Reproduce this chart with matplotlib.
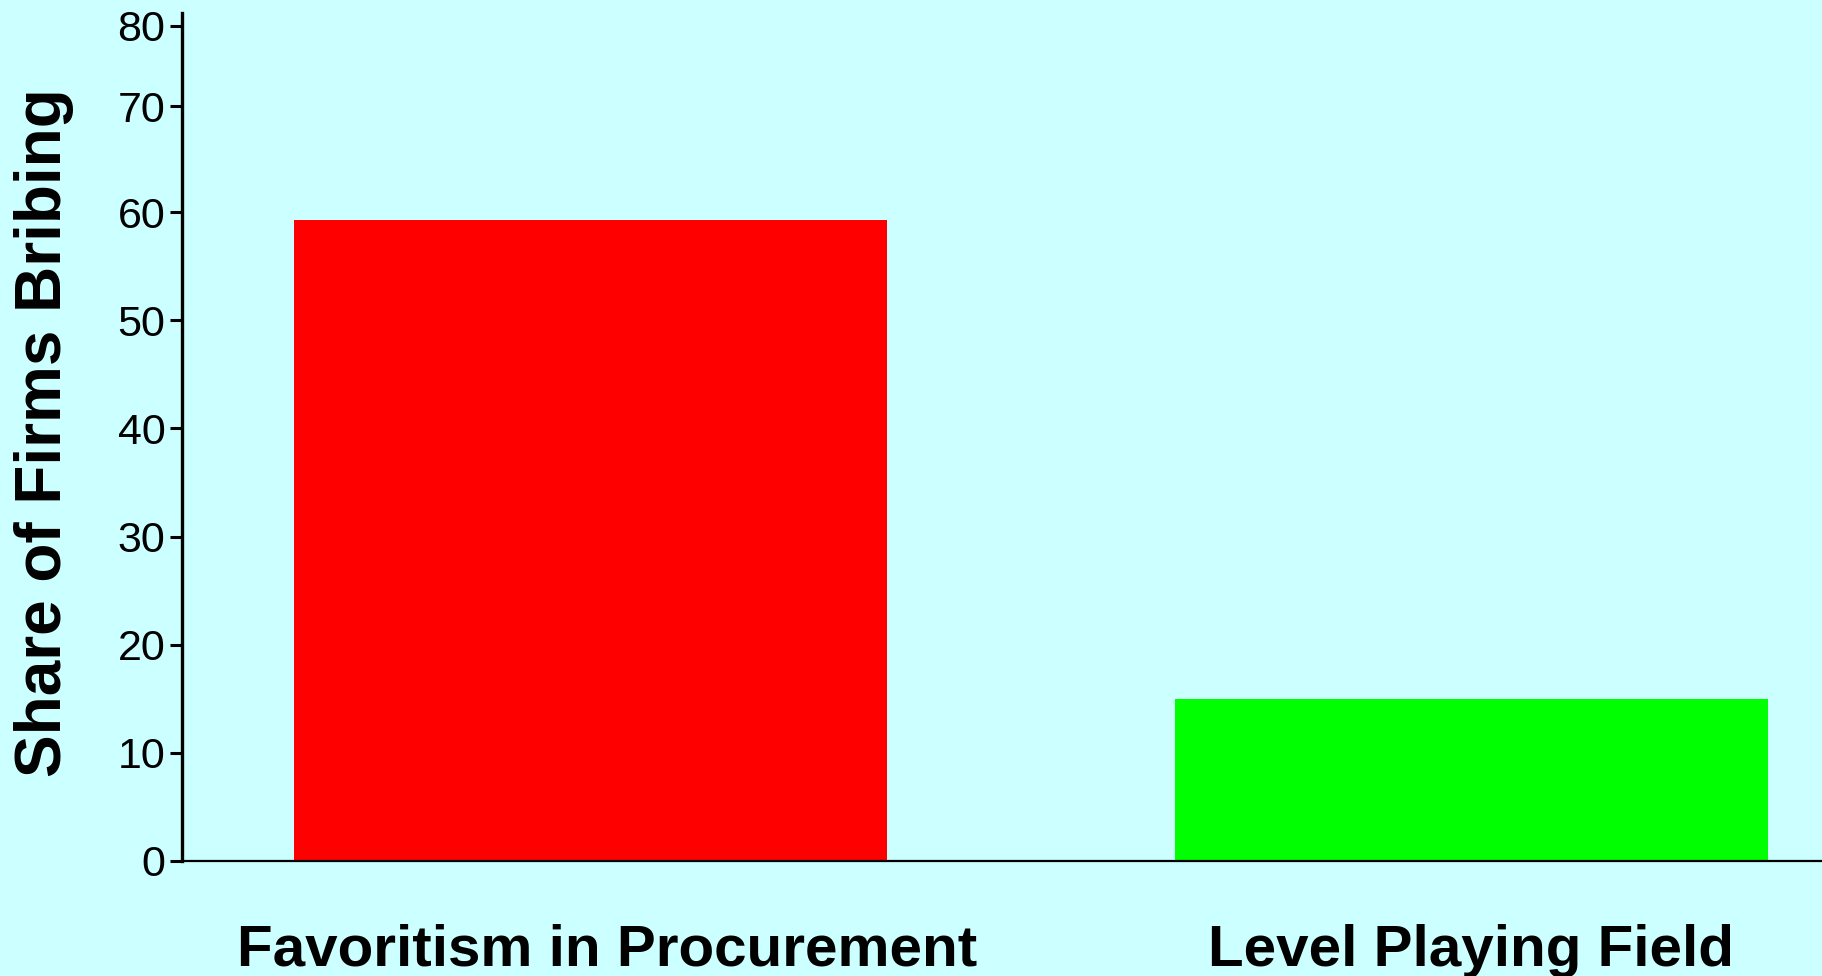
import numpy as np
import matplotlib
matplotlib.use("Agg")
import matplotlib.pyplot as plt
import matplotlib.transforms as mtransforms

plt.rcParams['font.family'] = ['Liberation Sans', 'DejaVu Sans']

# data
categories = ['Favoritism in Procurement', 'Level Playing Field']
share_bribing = [59.3, 15.0]
bar_colors = ['#FF0000', '#00FF00']

# y tick labels as drawn (the top two sit closer together in the original)
ytick_labels = ['0', '10', '20', '30', '40', '50', '60', '70', '80']
ytick_pos = [0, 10, 20, 30, 40, 50, 60, 69.8, 77.2]

bg = '#CCFFFF'

fig = plt.figure(figsize=(18.22, 9.76), dpi=100, facecolor=bg)
ax = fig.add_axes([182 / 1822, 1 - 861 / 976, 1 - 182 / 1822, (861 - 13) / 976])
ax.set_facecolor(bg)

x = np.arange(len(categories))
ax.bar(x, share_bribing, width=0.673, color=bar_colors, edgecolor='none')

ax.set_xlim(-0.4637, 1.398)
ax.set_ylim(0, 78.4)

ax.set_yticks(ytick_pos)
ax.set_yticklabels(ytick_labels, fontsize=31)
ax.set_xticks(x)
ax.set_xticklabels(categories, fontsize=42, fontweight='bold')

ax.tick_params(axis='y', direction='out', length=8.5, width=2.2, pad=3.5, colors='black')
ax.tick_params(axis='x', length=0, pad=45)

# first category label sits a little right of its bar in the original
lbl = ax.get_xticklabels()[0]
lbl.set_transform(lbl.get_transform() + mtransforms.ScaledTranslation(0.17, 0, fig.dpi_scale_trans))

ax.spines['top'].set_visible(False)
ax.spines['right'].set_visible(False)
ax.spines['left'].set_linewidth(2.4)
ax.spines['bottom'].set_linewidth(1.6)

fig.text(44 / 1822, 1 - 433 / 976, 'Share of Firms Bribing', rotation=90,
         ha='center', va='center', fontsize=46, fontweight='bold')

fig.savefig('out.png', dpi=100, facecolor=bg)
